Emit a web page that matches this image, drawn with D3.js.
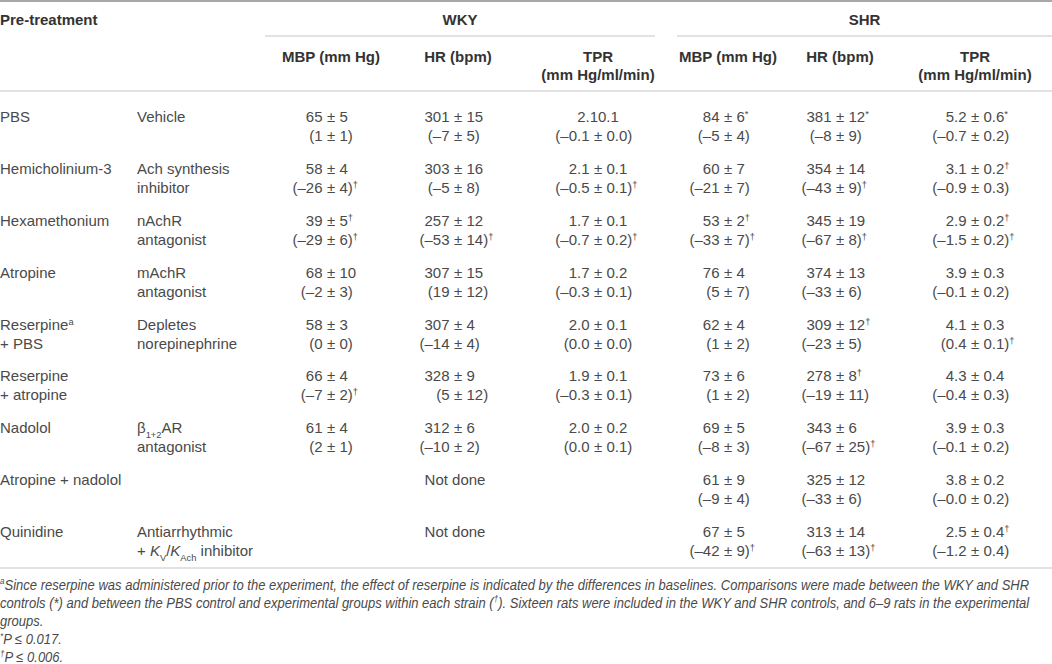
<!DOCTYPE html>
<html>
<head>
<meta charset="utf-8">
<script src="https://cdn.jsdelivr.net/npm/d3@7"></script>
<style>
  body { margin: 0; background: #fff; }
  svg { display: block; }
  text { font-family: "Liberation Sans", Arial, sans-serif; }
</style>
</head>
<body>
<svg width="1052" height="664"></svg>
<script>
const svg = d3.select("svg");
const width = +svg.attr("width");

// ---- table content ----
const pretreatments = [
    ["PBS"], ["Hemicholinium-3"], ["Hexamethonium"], ["Atropine"],
    ["Reserpine<sup>a</sup>", "+ PBS"], ["Reserpine", "+ atropine"],
    ["Nadolol"], ["Atropine + nadolol"], ["Quinidine"]
];
const mechanisms = [
    ["Vehicle"], ["Ach synthesis", "inhibitor"], ["nAchR", "antagonist"],
    ["mAchR", "antagonist"], ["Depletes", "norepinephrine"], [],
    ["β<sub>1+2</sub>AR", "antagonist"], [],
    ["Antiarrhythmic", "+ <i>K</i><sub>V</sub>/<i>K</i><sub>Ach</sub> inhibitor"]
];
const groups = ["WKY", "SHR"];
const measures = [["MBP (mm Hg)"], ["HR (bpm)"], ["TPR", "(mm Hg/ml/min)"]];

const wkyMBP = [
    ["65 ± 5", "(1 ± 1)"], ["58 ± 4", "(–26 ± 4)<sup>†</sup>"], ["39 ± 5<sup>†</sup>", "(–29 ± 6)<sup>†</sup>"],
    ["68 ± 10", "(–2 ± 3)"], ["58 ± 3", "(0 ± 0)"], ["66 ± 4", "(–7 ± 2)<sup>†</sup>"],
    ["61 ± 4", "(2 ± 1)"], null, null
];
const wkyHR = [
    ["301 ± 15", "(–7 ± 5)"], ["303 ± 16", "(–5 ± 8)"], ["257 ± 12", "(–53 ± 14)<sup>†</sup>"],
    ["307 ± 15", "(19 ± 12)"], ["307 ± 4", "(–14 ± 4)"], ["328 ± 9", "(5 ± 12)"],
    ["312 ± 6", "(–10 ± 2)"], null, null
];
const wkyTPR = [
    ["2.10.1", "(–0.1 ± 0.0)"], ["2.1 ± 0.1", "(–0.5 ± 0.1)<sup>†</sup>"], ["1.7 ± 0.1", "(–0.7 ± 0.2)<sup>†</sup>"],
    ["1.7 ± 0.2", "(–0.3 ± 0.1)"], ["2.0 ± 0.1", "(0.0 ± 0.0)"], ["1.9 ± 0.1", "(–0.3 ± 0.1)"],
    ["2.0 ± 0.2", "(0.0 ± 0.1)"], null, null
];
const shrMBP = [
    ["84 ± 6<sup>*</sup>", "(–5 ± 4)"], ["60 ± 7", "(–21 ± 7)"], ["53 ± 2<sup>†</sup>", "(–33 ± 7)<sup>†</sup>"],
    ["76 ± 4", "(5 ± 7)"], ["62 ± 4", "(1 ± 2)"], ["73 ± 6", "(1 ± 2)"],
    ["69 ± 5", "(–8 ± 3)"], ["61 ± 9", "(–9 ± 4)"], ["67 ± 5", "(–42 ± 9)<sup>†</sup>"]
];
const shrHR = [
    ["381 ± 12<sup>*</sup>", "(–8 ± 9)"], ["354 ± 14", "(–43 ± 9)<sup>†</sup>"], ["345 ± 19", "(–67 ± 8)<sup>†</sup>"],
    ["374 ± 13", "(–33 ± 6)"], ["309 ± 12<sup>†</sup>", "(–23 ± 5)"], ["278 ± 8<sup>†</sup>", "(–19 ± 11)"],
    ["343 ± 6", "(–67 ± 25)<sup>†</sup>"], ["325 ± 12", "(–33 ± 6)"], ["313 ± 14", "(–63 ± 13)<sup>†</sup>"]
];
const shrTPR = [
    ["5.2 ± 0.6<sup>*</sup>", "(–0.7 ± 0.2)"], ["3.1 ± 0.2<sup>†</sup>", "(–0.9 ± 0.3)"], ["2.9 ± 0.2<sup>†</sup>", "(–1.5 ± 0.2)<sup>†</sup>"],
    ["3.9 ± 0.3", "(–0.1 ± 0.2)"], ["4.1 ± 0.3", "(0.4 ± 0.1)<sup>†</sup>"], ["4.3 ± 0.4", "(–0.4 ± 0.3)"],
    ["3.9 ± 0.3", "(–0.1 ± 0.2)"], ["3.8 ± 0.2", "(–0.0 ± 0.2)"], ["2.5 ± 0.4<sup>†</sup>", "(–1.2 ± 0.4)"]
];
const notDone = "Not done";

const footnotes = [
    "<sup>a</sup>Since reserpine was administered prior to the experiment, the effect of reserpine is indicated by the differences in baselines. Comparisons were made between the WKY and SHR",
    "controls (*) and between the PBS control and experimental groups within each strain (<sup>†</sup>). Sixteen rats were included in the WKY and SHR controls, and 6–9 rats in the experimental",
    "groups.",
    "<sup>*</sup>P ≤ 0.017.",
    "<sup>†</sup>P ≤ 0.006."
];

const columns = [wkyMBP, wkyHR, wkyTPR, shrMBP, shrHR, shrTPR];

// ---- layout ----
const textColor = "#4a4a4a";
const headColor = "#333";
const ruleColor = "#c6c6c6";
const fontSize = 15;
const lineGap = 19;

const x = d3.scaleOrdinal()
    .domain(d3.range(columns.length))
    .range([331, 458, 598, 728, 840, 975]);
const groupSpan = [[265, 655], [677, 1052]];
const labelX = [0, 137];

const y = d3.scaleLinear()
    .domain([0, pretreatments.length - 1])
    .range([122, 537]);

// rich text: <sup>, <sub>, <i>
function rich(sel, str) {
    const re = /<(sup|sub|i)>(.*?)<\/\1>|([^<]+)/g;
    let m;
    while ((m = re.exec(str))) {
        if (m[3]) sel.append("tspan").text(m[3]);
        else if (m[1] === "i") sel.append("tspan").attr("font-style", "italic").text(m[2]);
        else sel.append("tspan")
            .attr("baseline-shift", m[1] === "sup" ? "super" : "sub")
            .attr("font-size", "62%")
            .text(m[2]);
    }
}

const g = svg.append("g");

// rules
g.append("line").attr("x1", 0).attr("x2", width).attr("y1", 1).attr("y2", 1)
    .attr("stroke", "#a8a8a8").attr("stroke-width", 2);
groupSpan.forEach(s => g.append("line").attr("x1", s[0]).attr("x2", s[1])
    .attr("y1", 36).attr("y2", 36).attr("stroke", ruleColor).attr("stroke-width", 1.2));
[91, 568].forEach(yy => g.append("line").attr("x1", 0).attr("x2", width)
    .attr("y1", yy).attr("y2", yy).attr("stroke", ruleColor).attr("stroke-width", 1.2));

// header
const head = g.append("g").attr("font-weight", "bold").attr("font-size", fontSize).attr("fill", headColor);
head.append("text").attr("x", 0).attr("y", 25).text("Pre-treatment");
head.selectAll(".grp").data(groups).join("text")
    .attr("class", "grp")
    .attr("x", (d, i) => (groupSpan[i][0] + groupSpan[i][1]) / 2)
    .attr("y", 25).attr("text-anchor", "middle").text(d => d);
head.selectAll(".meas").data(d3.range(columns.length)).join("text")
    .attr("class", "meas")
    .attr("text-anchor", "middle")
    .attr("x", d => x(d))
    .each(function (d) {
        const lines = measures[d % 3];
        d3.select(this).selectAll("tspan").data(lines).join("tspan")
            .attr("x", x(d)).attr("y", (l, k) => 62 + k * 18).text(l => l);
    });

// row labels
const body = g.append("g").attr("font-size", fontSize).attr("fill", textColor);
[pretreatments, mechanisms].forEach((col, c) => {
    col.forEach((lines, r) => {
        lines.forEach((l, k) => {
            rich(body.append("text").attr("x", labelX[c]).attr("y", y(r) + k * lineGap), l);
        });
    });
});

// value cells, aligned on the ± sign
const cells = [];
columns.forEach((col, c) => col.forEach((lines, r) => {
    if (lines) lines.forEach((l, k) => cells.push({ c, r, k, l }));
}));

const cell = body.selectAll(".cell").data(cells).join("g").attr("class", "cell")
    .attr("transform", d => `translate(${x(d.c)},${y(d.r) + d.k * lineGap})`);
cell.each(function (d) {
    const sel = d3.select(this);
    const parts = d.l.split(" ± ");
    if (parts.length === 1) {
        rich(sel.append("text").attr("text-anchor", "middle"), parts[0]);
        return;
    }
    rich(sel.append("text").attr("text-anchor", "end").attr("x", -8.5), parts[0]);
    sel.append("text").attr("text-anchor", "middle").text("±");
    rich(sel.append("text").attr("text-anchor", "start").attr("x", 8.5), parts[1]);
});

// "Not done" for WKY rows without data
wkyHR.forEach((v, r) => {
    if (v === null) body.append("text").attr("x", x(1) - 3).attr("y", y(r))
        .attr("text-anchor", "middle").text(notDone);
});

// footnotes (condensed italic)
const foot = g.append("g").attr("font-size", 14.5).attr("font-style", "italic").attr("fill", textColor);
const fnodes = footnotes.map((f, i) => {
    const t = foot.append("text").attr("x", 0).attr("y", 0);
    rich(t, f);
    return { t, yy: 589.5 + i * 18.2 };
});
const natural = fnodes[0].t.node().getComputedTextLength();
const ratio = 1030 / natural;
fnodes.forEach(d => d.t.attr("transform", `translate(0,${d.yy}) scale(${ratio},1)`));
</script>
</body>
</html>
